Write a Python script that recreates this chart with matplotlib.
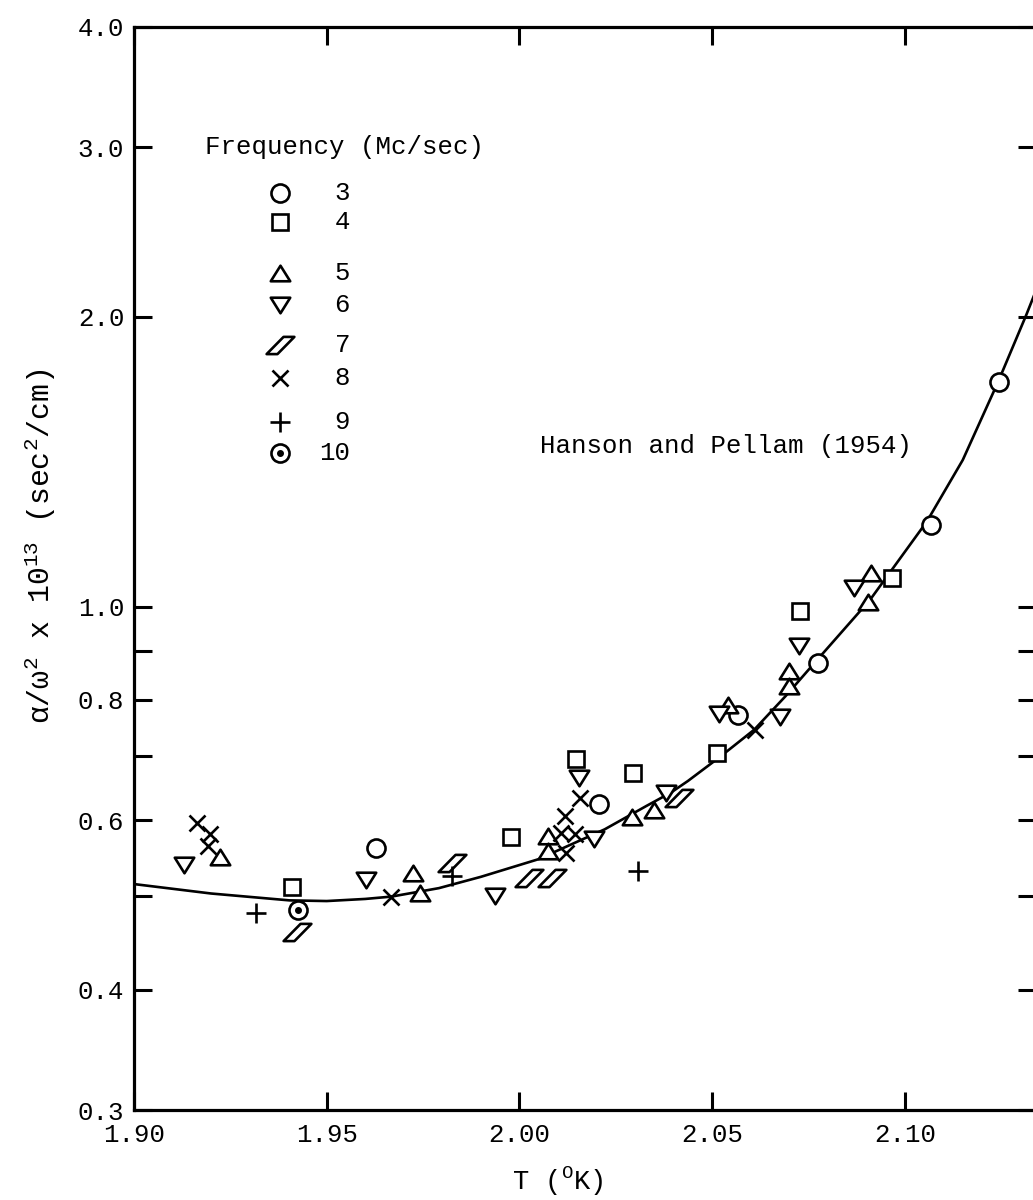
import numpy as np
import matplotlib
matplotlib.use('Agg')
import matplotlib.pyplot as plt
from matplotlib.path import Path
from matplotlib.ticker import FixedLocator, FixedFormatter, NullLocator

plt.rcParams['font.family'] = ['Liberation Mono', 'DejaVu Sans']
plt.rcParams['mathtext.fontset'] = 'custom'
plt.rcParams['mathtext.rm'] = 'Liberation Mono'
plt.rcParams['mathtext.it'] = 'Liberation Mono'

# data: T (deg K), alpha/omega^2 x 1e13 (sec^2/cm)
f3_T = [1.9629, 2.0206, 2.0566, 2.0775, 2.1067, 2.1245]
f3_v = [0.561, 0.623, 0.771, 0.873, 1.216, 1.713]

f4_T = [1.9409, 1.9978, 2.0146, 2.0294, 2.0512, 2.0728, 2.0966]
f4_v = [0.512, 0.577, 0.695, 0.672, 0.705, 0.989, 1.071]

f5_T = [1.9224, 1.9724, 1.9743, 2.0075, 2.0073, 2.0292, 2.0350, 2.0542,
        2.0699, 2.0698, 2.0903, 2.0913]
f5_v = [0.549, 0.5285, 0.504, 0.578, 0.557, 0.604, 0.615, 0.790,
        0.857, 0.827, 1.010, 1.084]

f6_T = [1.9129, 1.9601, 1.9937, 2.0155, 2.0193, 2.0379, 2.0518, 2.0675,
        2.0725, 2.0869]
f6_v = [0.539, 0.520, 0.5005, 0.663, 0.573, 0.640, 0.774, 0.768,
        0.911, 1.046]

f7_T = [1.9422, 1.9824, 2.0025, 2.0085, 2.0415]
f7_v = [0.459, 0.541, 0.523, 0.522, 0.633]

f8_T = [1.9164, 1.9196, 1.9192, 1.9668, 2.0109, 2.0118, 2.0122, 2.0144,
        2.0157, 2.0611]
f8_v = [0.5955, 0.580, 0.564, 0.4998, 0.582, 0.606, 0.555, 0.580,
        0.633, 0.745]

f9_T = [1.9317, 1.9825, 2.0307]
f9_v = [0.481, 0.525, 0.531]

f10_T = [1.9425]
f10_v = [0.484]

# Hanson and Pellam (1954) curve
curve_T = [1.900, 1.920, 1.9403, 1.950, 1.960, 1.9668, 1.9791, 1.990, 2.0049,
           2.0221, 2.033, 2.0393, 2.0437, 2.052, 2.0609, 2.069, 2.0773,
           2.0910, 2.1057, 2.115, 2.1242, 2.1315, 2.134]
curve_v = [0.515, 0.5035, 0.4953, 0.4945, 0.497, 0.4998, 0.510, 0.524, 0.5465,
           0.587, 0.621, 0.641, 0.659, 0.698, 0.745, 0.807, 0.881,
           1.017, 1.226, 1.42, 1.713, 2.01, 2.13]

freq_labels = ['3', '4', '5', '6', '7', '8', '9', '10']

ytick_vals = [0.3, 0.4, 0.5, 0.6, 0.7, 0.8, 0.9, 1.0, 2.0, 3.0, 4.0]
ytick_text = ['0.3', '0.4', '', '0.6', '', '0.8', '', '1.0', '2.0', '3.0', '4.0']
xtick_vals = [1.90, 1.95, 2.00, 2.05, 2.10]
xtick_text = ['1.90', '1.95', '2.00', '2.05', '2.10']

# marker shapes
tri_up = Path([(0, 0.8), (-1, -0.8), (1, -0.8), (0, 0.8)],
              [Path.MOVETO, Path.LINETO, Path.LINETO, Path.CLOSEPOLY])
tri_dn = Path([(0, -0.8), (-1, 0.8), (1, 0.8), (0, -0.8)],
              [Path.MOVETO, Path.LINETO, Path.LINETO, Path.CLOSEPOLY])
para = Path([(-1, -0.62), (-0.22, -0.62), (1, 0.62), (0.22, 0.62), (-1, -0.62)],
            [Path.MOVETO, Path.LINETO, Path.LINETO, Path.LINETO, Path.CLOSEPOLY])

styles = [
    dict(marker='o', ms=13),
    dict(marker='s', ms=11.5),
    dict(marker=tri_up, ms=14),
    dict(marker=tri_dn, ms=14),
    dict(marker=para, ms=20),
    dict(marker='x', ms=12),
    dict(marker='+', ms=14),
    dict(marker='o', ms=13),
]
series = [(f3_T, f3_v), (f4_T, f4_v), (f5_T, f5_v), (f6_T, f6_v),
          (f7_T, f7_v), (f8_T, f8_v), (f9_T, f9_v), (f10_T, f10_v)]

fig = plt.figure(figsize=(10.33, 12), dpi=100)
ax = fig.add_axes([0.1297, 0.075, 0.8732, 0.9025])

ax.plot(curve_T, curve_v, color='black', lw=1.9, zorder=2)

for (T, v), st in zip(series, styles):
    ax.plot(T, v, linestyle='none', mfc='white', mec='black', mew=1.9,
            zorder=3, **st)
ax.plot(f10_T, f10_v, linestyle='none', marker='o', ms=4, color='black', zorder=4)

ax.set_yscale('log')
ax.set_xlim(1.90, 2.134)
ax.set_ylim(0.3, 4.0)
ax.yaxis.set_major_locator(FixedLocator(ytick_vals))
ax.yaxis.set_major_formatter(FixedFormatter(ytick_text))
ax.yaxis.set_minor_locator(NullLocator())
ax.xaxis.set_major_locator(FixedLocator(xtick_vals))
ax.xaxis.set_major_formatter(FixedFormatter(xtick_text))

ax.tick_params(direction='in', length=13, width=2.2, labelsize=18.5,
               top=True, right=True, pad=9, color='black')
ax.tick_params(axis='y', pad=7)
for sp in ax.spines.values():
    sp.set_linewidth(2.3)

fig.text(558 / 1033, 1 - 1181 / 1200, r'T ($^{\mathrm{O}}$K)', fontsize=19.5,
         ha='center', va='center')
fig.text(0.039, 0.545, r'α/ω$^2$ x 10$^{13}$ (sec$^2$/cm)', rotation=90,
         fontsize=21.5, ha='center', va='center')

ax.text(2.0054, 1.47, 'Hanson and Pellam (1954)', fontsize=18.5,
        ha='left', va='center')

# legend block
ax.text(0.0787, 0.889, 'Frequency (Mc/sec)', transform=ax.transAxes,
        fontsize=18.5, ha='left', va='center')
row_y = [0.8467, 0.820, 0.7729, 0.7433, 0.7064, 0.676, 0.6353, 0.6066]
for lab, st, y in zip(freq_labels, styles, row_y):
    ax.plot([0.1619], [y], transform=ax.transAxes, linestyle='none',
            mfc='white', mec='black', mew=1.9, clip_on=False, **st)
    ax.text(0.2395, y, lab, transform=ax.transAxes, fontsize=18.5,
            ha='right', va='center')
ax.plot([0.1619], [row_y[-1]], transform=ax.transAxes, linestyle='none',
        marker='o', ms=4, color='black')

fig.savefig('out.png', dpi=100)
